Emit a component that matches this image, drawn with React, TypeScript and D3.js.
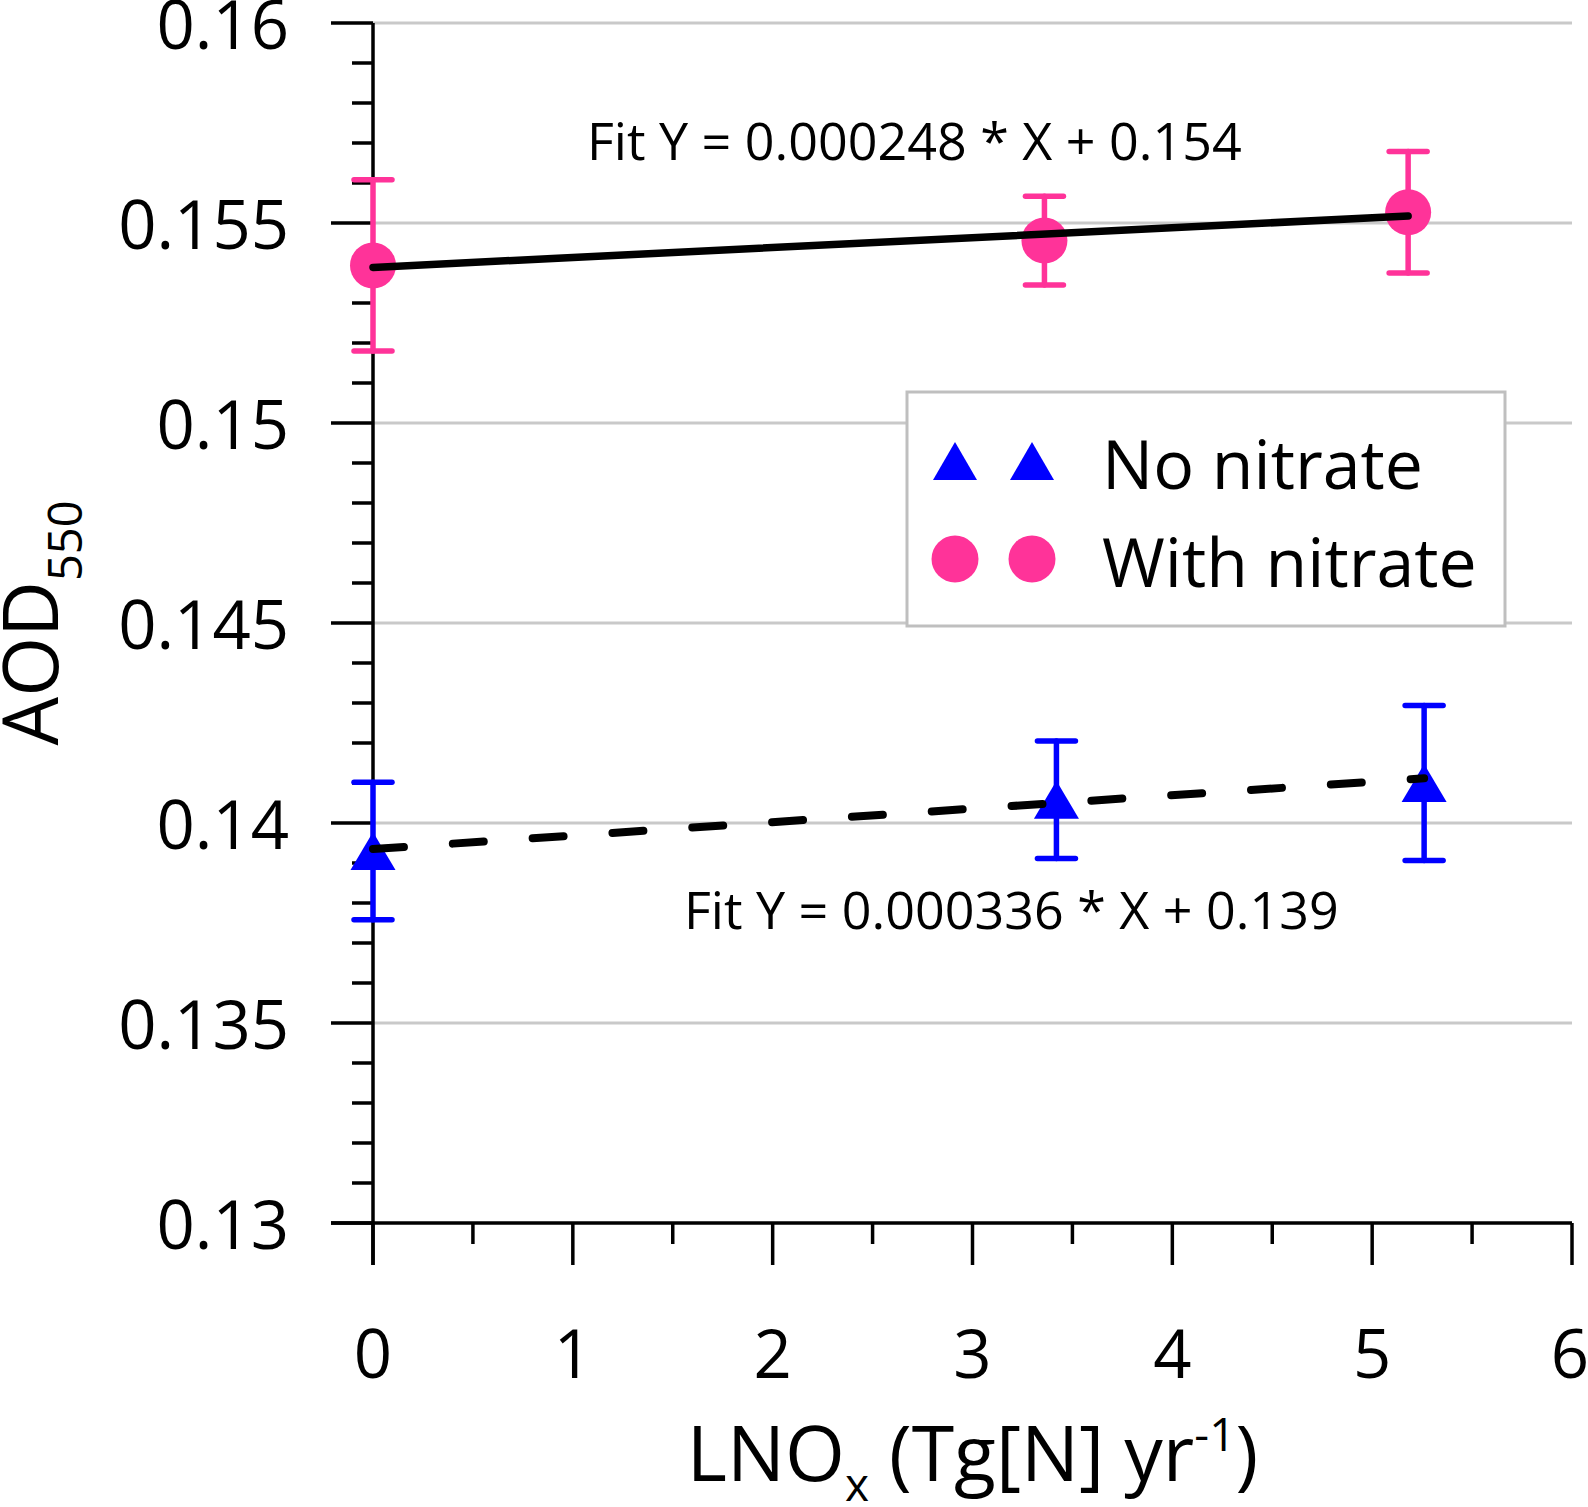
import * as d3 from 'd3';

const WIDTH = 1588;
const HEIGHT = 1507;
const margin = { top: 23, right: 16, bottom: 284, left: 373 };

// LNOx (Tg[N] yr-1) and AOD550
const lnoxNoNitrate = [0, 3.42, 5.26];
const aodNoNitrate = [0.1393, 0.14058, 0.141];
const errNoNitrate = [0.00172, 0.00147, 0.00194];

const lnoxWithNitrate = [0, 3.36, 5.18];
const aodWithNitrate = [0.15394, 0.15456, 0.15527];
const errWithNitrate = [0.00214, 0.00111, 0.00152];

// linear fits (slope from the labels, intercept)
const fitNoSlope = 0.000336;
const fitNoIntercept = 0.13935;
const fitWithSlope = 0.000248;
const fitWithIntercept = 0.15389;

const xTicks = [0, 1, 2, 3, 4, 5, 6];
const xMinorTicks = [0.5, 1.5, 2.5, 3.5, 4.5, 5.5];
const yTicks = [0.13, 0.135, 0.14, 0.145, 0.15, 0.155, 0.16];
const yTickLabels = ['0.13', '0.135', '0.14', '0.145', '0.15', '0.155', '0.16'];

const legendLabels = ['No nitrate', 'With nitrate'];

const PINK = '#ff3399';
const BLUE = '#0000ff';
const FONT = '"Open Sans", sans-serif';

const triangle = (w: number, h: number) => `M0,${-h / 2}L${w / 2},${h / 2}L${-w / 2},${h / 2}Z`;

export default function App() {
  const innerW = WIDTH - margin.left - margin.right;
  const innerH = HEIGHT - margin.top - margin.bottom;

  const x = d3.scaleLinear().domain([0, 6]).range([margin.left, margin.left + innerW]);
  const y = d3.scaleLinear().domain([0.13, 0.16]).range([margin.top + innerH, margin.top]);

  const yMinor = d3
    .range(130, 161, 1)
    .map((d) => d / 1000)
    .filter((d) => !yTicks.some((t) => Math.abs(t - d) < 1e-9));

  const fitNo = d3
    .line<number>()
    .x((d) => x(d))
    .y((d) => y(fitNoIntercept + fitNoSlope * d));
  const fitWith = d3
    .line<number>()
    .x((d) => x(d))
    .y((d) => y(fitWithIntercept + fitWithSlope * d));

  const x0 = x(0);
  const yBase = y(0.13);

  return (
    <svg width={WIDTH} height={HEIGHT} style={{ position: 'absolute', left: 0, top: 0, background: '#fff' }}>
      {/* gridlines */}
      {yTicks.slice(1).map((t) => (
        <line key={t} x1={x0} x2={x(6)} y1={y(t)} y2={y(t)} stroke="#c9c9c9" strokeWidth={3} />
      ))}

      {/* axes */}
      <g stroke="#000" strokeWidth={3.5}>
        <line x1={x0} x2={x0} y1={y(0.16)} y2={yBase + 42} />
        <line x1={x0 - 42} x2={x(6)} y1={yBase} y2={yBase} />
        {yTicks.map((t) => (
          <line key={'ym' + t} x1={x0 - 42} x2={x0} y1={y(t)} y2={y(t)} />
        ))}
        {yMinor.map((t) => (
          <line key={'yn' + t} x1={x0 - 21} x2={x0} y1={y(t)} y2={y(t)} />
        ))}
        {xTicks.map((t) => (
          <line key={'xm' + t} x1={x(t)} x2={x(t)} y1={yBase} y2={yBase + 42} />
        ))}
        {xMinorTicks.map((t) => (
          <line key={'xn' + t} x1={x(t)} x2={x(t)} y1={yBase} y2={yBase + 21} />
        ))}
      </g>

      {/* tick labels */}
      <g fontFamily={FONT} fontSize={67} fill="#000">
        {yTicks.map((t, i) => (
          <text key={'yl' + t} x={289} y={y(t) + 26} textAnchor="end">
            {yTickLabels[i]}
          </text>
        ))}
        {xTicks.map((t) => (
          <text key={'xl' + t} x={t === 6 ? x(t) - 2 : x(t)} y={1378} textAnchor="middle">
            {t}
          </text>
        ))}
      </g>

      {/* axis titles */}
      <text x={x(3)} y={1481} textAnchor="middle" fontFamily={FONT} fontSize={77}>
        LNO
        <tspan fontSize={46} dy={20}>x</tspan>
        <tspan dy={-20}> (Tg[N] yr</tspan>
        <tspan fontSize={46} dy={-30}>-1</tspan>
        <tspan dy={30}>)</tspan>
      </text>
      <text
        transform={`translate(58,${y(0.145)}) rotate(-90)`}
        textAnchor="middle"
        fontFamily={FONT}
        fontSize={77}
      >
        AOD
        <tspan fontSize={47} dy={24}>550</tspan>
      </text>

      {/* error bars */}
      <g stroke={BLUE} strokeWidth={5.5} strokeLinecap="round">
        {lnoxNoNitrate.map((d, i) => (
          <g key={'eb' + i}>
            <line x1={x(d)} x2={x(d)} y1={y(aodNoNitrate[i] + errNoNitrate[i])} y2={y(aodNoNitrate[i] - errNoNitrate[i])} />
            <line x1={x(d) - 19} x2={x(d) + 19} y1={y(aodNoNitrate[i] + errNoNitrate[i])} y2={y(aodNoNitrate[i] + errNoNitrate[i])} />
            <line x1={x(d) - 19} x2={x(d) + 19} y1={y(aodNoNitrate[i] - errNoNitrate[i])} y2={y(aodNoNitrate[i] - errNoNitrate[i])} />
          </g>
        ))}
      </g>
      <g stroke={PINK} strokeWidth={5.5} strokeLinecap="round">
        {lnoxWithNitrate.map((d, i) => (
          <g key={'ep' + i}>
            <line x1={x(d)} x2={x(d)} y1={y(aodWithNitrate[i] + errWithNitrate[i])} y2={y(aodWithNitrate[i] - errWithNitrate[i])} />
            <line x1={x(d) - 19} x2={x(d) + 19} y1={y(aodWithNitrate[i] + errWithNitrate[i])} y2={y(aodWithNitrate[i] + errWithNitrate[i])} />
            <line x1={x(d) - 19} x2={x(d) + 19} y1={y(aodWithNitrate[i] - errWithNitrate[i])} y2={y(aodWithNitrate[i] - errWithNitrate[i])} />
          </g>
        ))}
      </g>

      {/* markers */}
      {lnoxNoNitrate.map((d, i) => (
        <path key={'tri' + i} d={triangle(45, 38)} transform={`translate(${x(d)},${y(aodNoNitrate[i])})`} fill={BLUE} />
      ))}
      {lnoxWithNitrate.map((d, i) => (
        <circle key={'dot' + i} cx={x(d)} cy={y(aodWithNitrate[i])} r={23} fill={PINK} />
      ))}

      {/* fit lines */}
      <path
        d={fitNo([0, d3.max(lnoxNoNitrate) as number]) || ''}
        fill="none"
        stroke="#000"
        strokeWidth={8}
        strokeDasharray="31 49"
        strokeLinecap="round"
      />
      <path
        d={fitWith([0, d3.max(lnoxWithNitrate) as number]) || ''}
        fill="none"
        stroke="#000"
        strokeWidth={7.5}
        strokeLinecap="round"
      />

      {/* fit labels */}
      <g fontFamily={FONT} fontSize={52}>
        <text x={587} y={160}>
          Fit Y = {fitWithSlope} * X + {fitWithIntercept.toFixed(3)}
        </text>
        <text x={684} y={929}>
          Fit Y = {fitNoSlope} * X + {fitNoIntercept.toFixed(3)}
        </text>
      </g>

      {/* legend */}
      <g>
        <rect x={907} y={392} width={598} height={234} fill="#fff" stroke="#bfbfbf" strokeWidth={3} />
        {[955, 1032].map((cx) => (
          <path key={'lt' + cx} d={triangle(44, 38)} transform={`translate(${cx},461)`} fill={BLUE} />
        ))}
        {[955, 1032].map((cx) => (
          <circle key={'lc' + cx} cx={cx} cy={559} r={23.5} fill={PINK} />
        ))}
        <g fontFamily={FONT} fontSize={68}>
          <text x={1102} y={489}>{legendLabels[0]}</text>
          <text x={1102} y={587}>{legendLabels[1]}</text>
        </g>
      </g>
    </svg>
  );
}
